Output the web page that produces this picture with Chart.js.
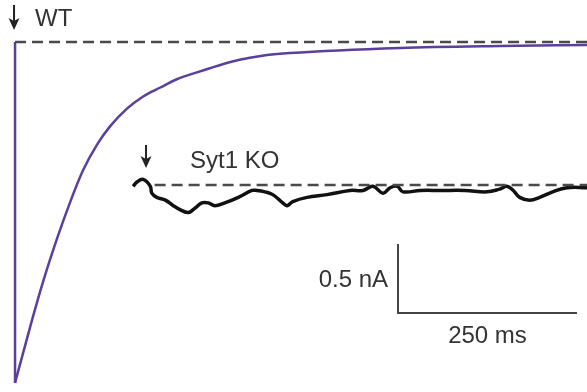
<!DOCTYPE html>
<html>
<head>
<meta charset="utf-8">
<title>WT vs Syt1 KO</title>
<script src="https://cdn.jsdelivr.net/npm/chart.js@4.4.1/dist/chart.umd.min.js"></script>
<style>
    html, body { margin: 0; padding: 0; background: #fff; }
    #wrap { width: 587px; height: 392px; }
</style>
</head>
<body>
<div id="wrap"><canvas id="trazas" width="587" height="392"></canvas></div>
<script>
/*global Chart*/

// WT trace: time after stimulus (ms) and current (nA), baseline = 0
var wtTime = [0, 24, 39, 59, 77, 95, 115, 133, 156, 179, 203, 226, 254, 272, 305, 328, 352, 384, 538, 677, 800];
var wtCurrent = [-2.47, -2.01, -1.74, -1.42, -1.16, -0.93, -0.74, -0.61, -0.485, -0.395, -0.33, -0.27, -0.22, -0.19, -0.14, -0.115, -0.095, -0.08, -0.043, -0.029, -0.022];

// Syt1 KO trace: time after stimulus (ms) and current (nA), baseline = 0
var koTime = [-18, -13, -4, 6, 8, 15, 27, 38, 48, 59, 68, 78, 87, 96, 110, 129, 148, 155, 166, 177, 191, 197, 205, 225, 253, 285, 303, 317, 331, 341, 351, 359, 383, 411, 446, 476, 494, 504, 513, 522, 536, 550, 568, 588, 616];
var koCurrent = [-0.01, 0.02, 0.04, -0.01, -0.06, -0.09, -0.11, -0.15, -0.18, -0.20, -0.17, -0.13, -0.13, -0.15, -0.13, -0.09, -0.04, -0.04, -0.05, -0.07, -0.13, -0.15, -0.12, -0.09, -0.07, -0.04, -0.04, -0.01, -0.06, -0.02, -0.01, -0.05, -0.04, -0.04, -0.04, -0.05, -0.03, -0.01, -0.04, -0.09, -0.11, -0.09, -0.05, -0.02, -0.02];

var traceLabels = ["WT", "Syt1 KO"];
var scaleBarMs = 250;
var scaleBarNA = 0.5;
var scaleBarLabels = ["250 ms", "0.5 nA"];

// display offsets of the KO trace and scale bar corner
var koShiftMs = 183;
var koShiftNA = -1.036;
var barCornerMs = 535;
var barCornerNA = -1.964;
var xEnd = 799;

var textColor = "#333";
var fuente = "24px 'Liberation Sans', Arial, sans-serif";

function puntos(tiempos, valores, dx, dy) {
    "use strict";
    return tiempos.map(function (t, i) {
        return {x: t + dx, y: valores[i] + dy};
    });
}

function flecha(ctx, x, yTop, yTip) {
    "use strict";
    ctx.save();
    ctx.strokeStyle = "#222";
    ctx.fillStyle = "#222";
    ctx.lineWidth = 2;
    ctx.beginPath();
    ctx.moveTo(x, yTop);
    ctx.lineTo(x, yTip - 8);
    ctx.stroke();
    ctx.beginPath();
    ctx.moveTo(x - 5.5, yTip - 12);
    ctx.lineTo(x, yTip - 9);
    ctx.lineTo(x + 5.5, yTip - 12);
    ctx.lineTo(x, yTip);
    ctx.closePath();
    ctx.fill();
    ctx.restore();
}

var anotaciones = {
    id: "anotaciones",
    afterDatasetsDraw: function (chart) {
        "use strict";
        var ctx = chart.ctx;
        var xs = chart.scales.x;
        var ys = chart.scales.y;
        var wtX = xs.getPixelForValue(0);
        var wtY = ys.getPixelForValue(0);
        var koX = xs.getPixelForValue(koShiftMs);
        var koY = ys.getPixelForValue(koShiftNA);
        var bx = xs.getPixelForValue(barCornerMs);
        var by = ys.getPixelForValue(barCornerNA);
        var bx2 = xs.getPixelForValue(barCornerMs + scaleBarMs);
        var by2 = ys.getPixelForValue(barCornerNA + scaleBarNA);

        flecha(ctx, wtX - 1, wtY - 37, wtY - 12);
        flecha(ctx, koX, koY - 40, koY - 17);

        ctx.save();
        ctx.font = fuente;
        ctx.fillStyle = textColor;
        ctx.textBaseline = "alphabetic";
        ctx.textAlign = "left";
        ctx.fillText(traceLabels[0], wtX + 20, wtY - 16);
        ctx.fillText(traceLabels[1], koX + 44, koY - 17);
        ctx.textAlign = "right";
        ctx.fillText(scaleBarLabels[1], bx - 10, (by + by2) / 2 + 8);
        ctx.textAlign = "center";
        ctx.fillText(scaleBarLabels[0], (bx + bx2) / 2, by + 30);
        ctx.restore();
    }
};

var canvas = document.getElementById("trazas");

new Chart(canvas, {
    type: "scatter",
    data: {
        datasets: [{
            label: "WT baseline",
            data: [{x: 0, y: 0}, {x: xEnd, y: 0}],
            borderColor: "#4a4a4a",
            borderWidth: 2.5,
            borderDash: [11, 6]
        }, {
            label: "Syt1 KO baseline",
            data: [{x: koShiftMs + 12, y: koShiftNA}, {x: xEnd, y: koShiftNA}],
            borderColor: "#4a4a4a",
            borderWidth: 2.5,
            borderDash: [11, 6]
        }, {
            label: "WT onset",
            data: [{x: wtTime[0], y: 0}, {x: wtTime[0], y: wtCurrent[0]}],
            borderColor: "#5b3f9c",
            borderWidth: 2.5
        }, {
            label: traceLabels[0],
            data: puntos(wtTime, wtCurrent, 0, 0),
            borderColor: "#5b3f9c",
            borderWidth: 2.5,
            cubicInterpolationMode: "monotone"
        }, {
            label: traceLabels[1],
            data: puntos(koTime, koCurrent, koShiftMs, koShiftNA),
            borderColor: "#111",
            borderWidth: 3.5,
            tension: 0.4
        }, {
            label: "scale bar",
            data: [
                {x: barCornerMs, y: barCornerNA + scaleBarNA},
                {x: barCornerMs, y: barCornerNA},
                {x: barCornerMs + scaleBarMs, y: barCornerNA}
            ],
            borderColor: "#444",
            borderWidth: 2
        }]
    },
    options: {
        responsive: false,
        animation: false,
        showLine: true,
        layout: {padding: 0},
        elements: {
            point: {radius: 0, hoverRadius: 0},
            line: {tension: 0, borderCapStyle: "butt"}
        },
        plugins: {
            legend: {display: false},
            tooltip: {enabled: false}
        },
        scales: {
            x: {type: "linear", display: false, min: -21, max: 799},
            y: {type: "linear", display: false, min: -2.536, max: 0.304}
        }
    },
    plugins: [anotaciones]
});
</script>
</body>
</html>
